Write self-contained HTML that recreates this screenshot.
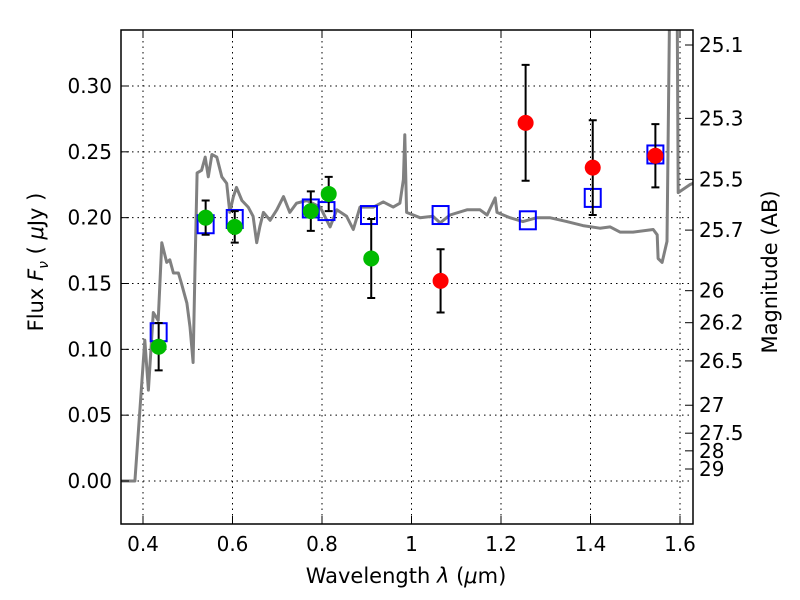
<!DOCTYPE html>
<html><head><meta charset="utf-8"><style>
body{margin:0;background:#fff;}
svg{display:block;font-family:"DejaVu Sans","Liberation Sans",sans-serif;}
</style></head><body>
<svg id="chart" width="800" height="600" xmlns="http://www.w3.org/2000/svg">
<defs><clipPath id="clip"><rect x="121" y="30" width="572" height="494"/></clipPath></defs>
<rect x="0" y="0" width="800" height="600" fill="#fff"/>
<g id="grid"></g>
<g id="marks" clip-path="url(#clip)"></g>
<rect x="121" y="30" width="572" height="494" fill="none" stroke="#000" stroke-width="1.5"/>
<g id="axes"></g>
<text x="406" y="583" font-size="21" text-anchor="middle">Wavelength  <tspan font-style="italic">λ</tspan> (<tspan font-style="italic">μ</tspan>m)</text>
<text transform="translate(43,262) rotate(-90)" font-size="21" text-anchor="middle">Flux  <tspan font-style="italic">F<tspan font-size="14" dy="5">ν</tspan></tspan><tspan dy="-5">  (  </tspan><tspan font-style="italic">μ</tspan>Jy )</text>
<text transform="translate(777,272) rotate(-90)" font-size="21" text-anchor="middle">Magnitude (AB)</text>
</svg>
<script>
const xTicks=[0.4,0.6,0.8,1.0,1.2,1.4,1.6];
const xTickLabels=["0.4","0.6","0.8","1","1.2","1.4","1.6"];
const yTicks=[0,0.05,0.10,0.15,0.20,0.25,0.30];
const yTickLabels=["0.00","0.05","0.10","0.15","0.20","0.25","0.30"];
const magTicks=[25.1,25.3,25.5,25.7,26,26.2,26.5,27,27.5,28,29];
const magLabels=["25.1","25.3","25.5","25.7","26","26.2","26.5","27","27.5","28","29"];
const specWl=[0.351,0.382,0.404,0.412,0.423,0.434,0.442,0.453,0.460,0.468,0.479,0.486,0.494,0.498,0.505,0.512,0.516,0.521,0.531,0.539,0.546,0.554,0.565,0.576,0.587,0.594,0.602,0.609,0.621,0.635,0.646,0.654,0.661,0.669,0.684,0.699,0.714,0.728,0.743,0.766,0.796,0.818,0.833,0.855,0.870,0.885,0.915,0.937,0.959,0.974,0.982,0.985,0.989,1.019,1.048,1.064,1.086,1.124,1.153,1.169,1.187,1.191,1.220,1.249,1.280,1.309,1.347,1.383,1.421,1.444,1.466,1.495,1.540,1.549,1.551,1.560,1.571,1.578,1.593,1.596,1.622,1.629];
const specFlux=[0,0,0.107,0.069,0.128,0.122,0.181,0.166,0.168,0.158,0.158,0.150,0.140,0.135,0.117,0.090,0.158,0.234,0.236,0.246,0.231,0.248,0.246,0.231,0.226,0.204,0.216,0.223,0.213,0.208,0.201,0.181,0.193,0.204,0.198,0.206,0.216,0.204,0.211,0.213,0.208,0.193,0.206,0.201,0.191,0.208,0.208,0.212,0.208,0.211,0.229,0.263,0.204,0.200,0.201,0.196,0.202,0.206,0.206,0.202,0.215,0.204,0.200,0.197,0.200,0.200,0.197,0.194,0.192,0.193,0.189,0.189,0.191,0.187,0.169,0.166,0.182,0.40,0.40,0.219,0.225,0.226];
const modelWl=[0.435,0.54,0.605,0.775,0.81,0.905,1.065,1.26,1.405,1.545];
const modelFlux=[0.113,0.195,0.199,0.207,0.205,0.202,0.202,0.198,0.215,0.248];
const greenWl=[0.435,0.54,0.605,0.775,0.815,0.91];
const greenFlux=[0.102,0.200,0.193,0.205,0.218,0.169];
const greenErr=[0.018,0.013,0.012,0.015,0.013,0.030];
const redWl=[1.065,1.255,1.405,1.545];
const redFlux=[0.152,0.272,0.238,0.247];
const redErr=[0.024,0.044,0.036,0.024];

const X=v=>143+(v-0.4)*447.5;
const Y=v=>481-v*1316.7;
const NS="http://www.w3.org/2000/svg";
function mk(tag,attrs,parent){const e=document.createElementNS(NS,tag);for(const k in attrs)e.setAttribute(k,attrs[k]);parent.appendChild(e);return e;}
const grid=document.getElementById('grid'),marks=document.getElementById('marks'),axes=document.getElementById('axes');
xTicks.forEach((t,i)=>{
  const g=mk('line',{x1:X(t),x2:X(t),y1:30,y2:524,stroke:'#000','stroke-dasharray':'1.5,4','stroke-width':1},grid);
  
  
  const a=mk('line',{x1:X(t),x2:X(t),y1:524,y2:516,stroke:'#000'},axes);
  
  
  const b=mk('line',{x1:X(t),x2:X(t),y1:30,y2:38,stroke:'#000'},axes);
  
  
  const l=mk('text',{x:X(t),y:551,'font-size':20,'text-anchor':'middle'},axes);l.textContent=xTickLabels[i];
  
  
});
yTicks.forEach((t,i)=>{
  const g=mk('line',{x1:121,x2:693,y1:Y(t),y2:Y(t),stroke:'#000','stroke-dasharray':'1.5,4','stroke-width':1},grid);
  
  
  const a=mk('line',{x1:121,x2:129,y1:Y(t),y2:Y(t),stroke:'#000'},axes);
  
  
  const l=mk('text',{x:112,y:Y(t)+7,'font-size':20,'text-anchor':'end'},axes);l.textContent=yTickLabels[i];
  
  
});
magTicks.forEach((m,i)=>{
  const f=Math.pow(10,-(m-23.9)/2.5);const y=Y(f);
  const a=mk('line',{x1:685,x2:693,y1:y,y2:y,stroke:'#000'},axes);
  
  
  const l=mk('text',{x:699,y:y+7,'font-size':20},axes);l.textContent=magLabels[i];
  
  
});
const pts=specWl.map((w,i)=>X(w).toFixed(1)+','+Y(specFlux[i]).toFixed(1)).join(' ');
const sp=mk('polyline',{points:pts,fill:'none',stroke:'#808080','stroke-width':3,'stroke-linejoin':'round'},marks);


modelWl.forEach((w,i)=>{
  const r=mk('rect',{x:X(w)-8,y:Y(modelFlux[i])-9,width:16,height:18,fill:'none',stroke:'#0000ff','stroke-width':2},marks);
  
  
});
function pointsWithErr(wl,fl,er,color,name){
  wl.forEach((w,i)=>{
    const x=X(w),y1=Y(fl[i]-er[i]),y2=Y(fl[i]+er[i]);
    const e=mk('path',{d:`M${x},${y1}V${y2}M${x-4},${y1}H${x+4}M${x-4},${y2}H${x+4}`,stroke:'#000','stroke-width':2,fill:'none'},marks);
    
    
    const c=mk('circle',{cx:x,cy:Y(fl[i]),r:8,fill:color},marks);
    
    
  });
}
pointsWithErr(greenWl,greenFlux,greenErr,'#00bb00','hst-flux');
pointsWithErr(redWl,redFlux,redErr,'#ff0000','nir-flux');
</script>
</body></html>
